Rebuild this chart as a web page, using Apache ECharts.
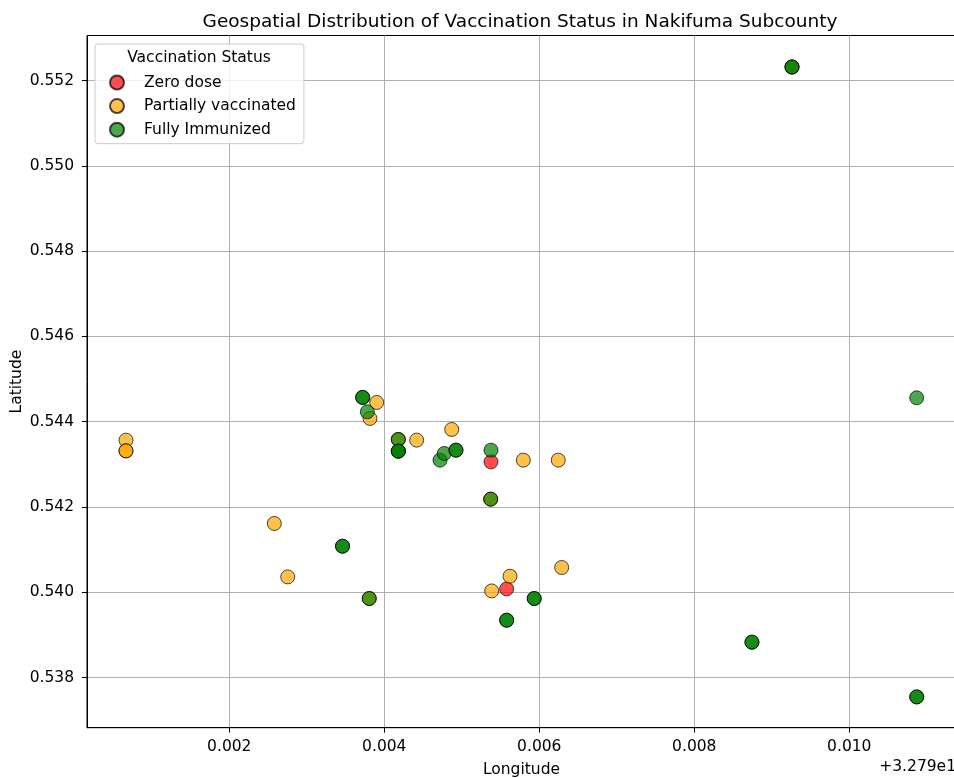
<!DOCTYPE html>
<html>
<head>
<meta charset="utf-8">
<script src="https://cdn.jsdelivr.net/npm/echarts@6/dist/echarts.min.js"></script>
<style>
  html, body { margin: 0; padding: 0; background: #fff; }
  #chart { width: 954px; height: 778px; }
</style>
</head>
<body>
<div id="chart"></div>
<script>
// Longitude values are stored as offsets from 32.79 (axis offset text "+3.279e1")
const LON_OFFSET_LABEL = '+3.279e1';

const zeroDoseLon = [0.005377, 0.005579];
const zeroDoseLat = [0.543057, 0.540077];

const partialLon = [0.000667, 0.000667, 0.000667, 0.003902, 0.003815, 0.004418, 0.004870, 0.005794, 0.006245,
                    0.002581, 0.002754, 0.006289, 0.005622, 0.005386, 0.004181, 0.003806, 0.005373, 0.009261];
const partialLat = [0.543566, 0.543315, 0.543315, 0.544450, 0.544075, 0.543566, 0.543817, 0.543097, 0.543097,
                    0.541612, 0.540359, 0.540579, 0.540375, 0.540030, 0.543582, 0.539852, 0.542182, 0.552317];

const fullLon = [0.003721, 0.003721, 0.003781, 0.004181, 0.004181, 0.004181, 0.004181, 0.004719, 0.004774,
                 0.004925, 0.004925, 0.005377, 0.005373, 0.003461, 0.003461, 0.003806, 0.005935, 0.005935,
                 0.005579, 0.005579, 0.009261, 0.009261, 0.008744, 0.008744, 0.010870, 0.010870, 0.010870];
const fullLat = [0.544568, 0.544568, 0.544230, 0.543582, 0.543308, 0.543308, 0.543308, 0.543097, 0.543254,
                 0.543331, 0.543331, 0.543331, 0.542182, 0.541079, 0.541079, 0.539852, 0.539852, 0.539852,
                 0.539343, 0.539343, 0.552317, 0.552317, 0.538827, 0.538827, 0.537544, 0.537544, 0.544558];

const xTicks = [0.002, 0.004, 0.006, 0.008, 0.010];
const yTicks = [0.538, 0.540, 0.542, 0.544, 0.546, 0.548, 0.550, 0.552];

const statusNames = ['Zero dose', 'Partially vaccinated', 'Fully Immunized'];
const statusColors = ['#ff0000', '#ffa500', '#008000'];

function pairs(xs, ys) { return xs.map((x, i) => [x, ys[i]]); }
const seriesData = [pairs(zeroDoseLon, zeroDoseLat), pairs(partialLon, partialLat), pairs(fullLon, fullLat)];

const FONT = 'DejaVu Sans';
const FS = 15.5;
const chart = echarts.init(document.getElementById('chart'), null, { renderer: 'canvas' });

const option = {
  animation: false,
  backgroundColor: '#fff',
  title: {
    text: 'Geospatial Distribution of Vaccination Status in Nakifuma Subcounty',
    left: 515, top: 8, textAlign: 'center',
    textStyle: { fontFamily: FONT, fontSize: 18.5, fontWeight: 'normal', color: '#000' }
  },
  grid: {
    left: 87, top: 35.5, width: 869, height: 692.2,
    outerBoundsMode: 'none', containLabel: false,
    show: true, borderColor: '#000', borderWidth: 1, backgroundColor: '#fff'
  },
  legend: {
    orient: 'vertical',
    left: 95, top: 44,
    padding: [30.5, 8, 6, 14],
    itemGap: 7.6, itemWidth: 14, itemHeight: 14,
    icon: 'circle',
    backgroundColor: 'rgba(255,255,255,0.8)',
    borderColor: '#cccccc', borderWidth: 1, borderRadius: 3,
    textStyle: { fontFamily: FONT, fontSize: FS, lineHeight: 14, color: '#000', padding: [0, 0, 0, 15] },
    data: statusNames
  },
  graphic: [
    { type: 'text', x: 199, y: 57.5, z: 100,
      style: { text: 'Vaccination Status', font: FS + 'px "DejaVu Sans"', fill: '#000', textAlign: 'center', textVerticalAlign: 'middle' } },
    { type: 'text', x: 956, y: 767, z: 100,
      style: { text: LON_OFFSET_LABEL, font: FS + 'px "DejaVu Sans"', fill: '#000', textAlign: 'right', textVerticalAlign: 'middle' } }
  ],
  xAxis: {
    type: 'value', min: 0.000164, max: 0.011377,
    name: 'Longitude', nameLocation: 'middle', nameGap: 34, nameMoveOverlap: false,
    nameTextStyle: { fontFamily: FONT, fontSize: FS, color: '#000' },
    axisLine: { show: true, lineStyle: { color: '#000', width: 1 } },
    axisTick: { show: true, inside: false, length: 5, lineStyle: { color: '#000' }, customValues: xTicks },
    axisLabel: { customValues: xTicks, margin: 11, fontFamily: FONT, fontSize: FS, color: '#000',
      formatter: v => v.toFixed(3) },
    splitLine: { show: true, lineStyle: { color: '#b0b0b0', width: 1 } }
  },
  yAxis: {
    type: 'value', min: 0.536822, max: 0.553056,
    name: 'Latitude', nameLocation: 'middle', nameGap: 62, nameRotate: 90, nameMoveOverlap: false,
    nameTextStyle: { fontFamily: FONT, fontSize: FS, color: '#000' },
    axisLine: { show: true, lineStyle: { color: '#000', width: 1 } },
    axisTick: { show: true, inside: false, length: 5, lineStyle: { color: '#000' }, customValues: yTicks },
    axisLabel: { customValues: yTicks, margin: 13, fontFamily: FONT, fontSize: FS, color: '#000',
      formatter: v => v.toFixed(3) },
    splitLine: { show: true, lineStyle: { color: '#b0b0b0', width: 1 } }
  },
  series: statusNames.map((name, i) => ({
    name: name,
    type: 'scatter',
    symbol: 'circle',
    symbolSize: 14,
    data: seriesData[i],
    itemStyle: { color: statusColors[i], borderColor: '#000', borderWidth: 1, opacity: 0.7 },
    emphasis: { disabled: true },
    z: 2 + i
  }))
};
chart.setOption(option);
</script>
</body>
</html>
